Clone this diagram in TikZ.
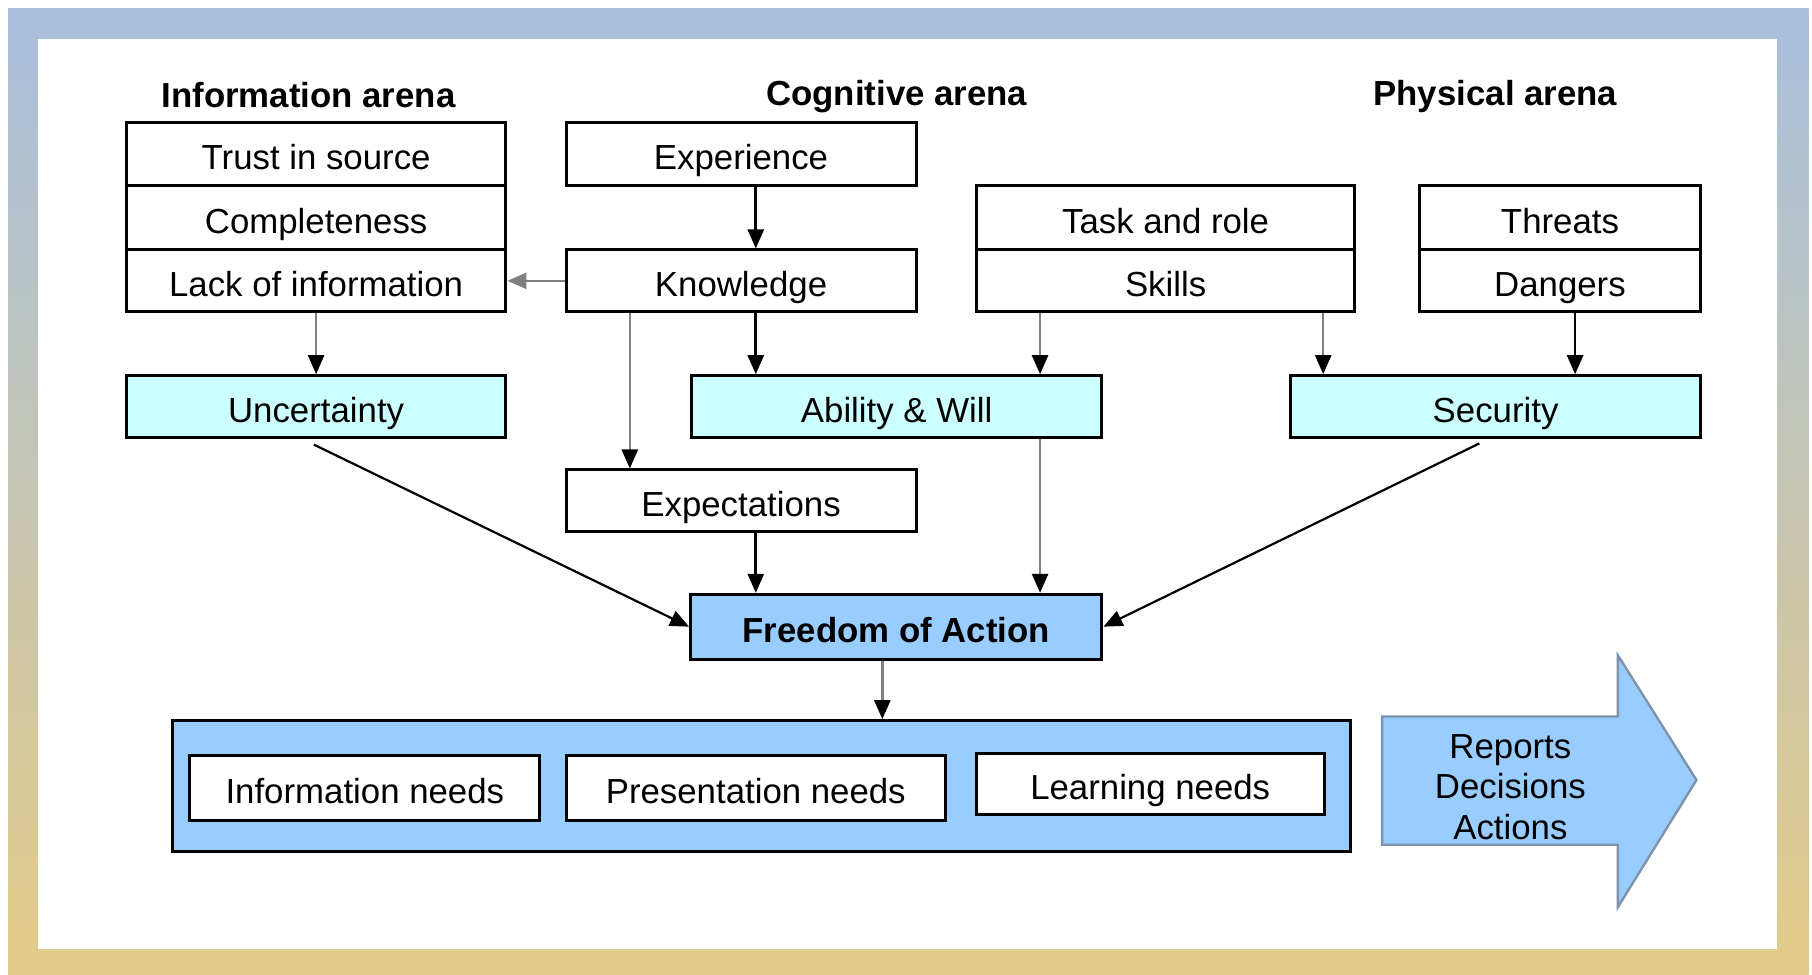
\documentclass[tikz,border=0pt]{standalone}
\usepackage{fontspec}
\setmainfont{Liberation Sans}
\usetikzlibrary{arrows.meta,calc}
\definecolor{cyanbox}{HTML}{CCFFFF}
\definecolor{bluebox}{HTML}{99CCFF}
\definecolor{frametop}{HTML}{A7BFDD}
\definecolor{framemid}{HTML}{CEC5C6}
\definecolor{framebot}{HTML}{E3CB88}
\definecolor{arrowedge}{HTML}{7F93AB}
\definecolor{linegray}{HTML}{808080}
\newcommand\bnode[7][]{\node[bx,#1,minimum width={(#5-#3)*0.5778pt},minimum height={(#6-#4)*0.5778pt}] (#2) at ({(#3+#5)/2},{(#4+#6)/2}) {#7};}
\begin{document}
\begin{tikzpicture}[x=0.5778pt,y=-0.5778pt,
  every node/.style={font=\fontsize{17.4}{20.2}\selectfont},
  bx/.style={draw=black,line width=1.5pt,fill=white,inner sep=0pt,text height=15.8pt,text depth=0pt},
  head/.style={font=\bfseries\fontsize{17.4}{20.2}\selectfont,anchor=base,inner sep=0pt},
  conn/.style={line width=1.3pt,-{Triangle[width=8pt,length=9.5pt,color=black]}},
  gconn/.style={conn,draw=linegray},
  gfull/.style={line width=1.3pt,draw=linegray,-{Triangle[width=8pt,length=9.5pt,color=linegray]}},
  diag/.style={line width=1.1pt,-{Triangle[width=8pt,length=9.5pt,color=black]}}
]
\useasboundingbox (0,0) rectangle (1568,843);
% frame
\shade[top color=frametop,middle color=framemid,bottom color=framebot] (7,7) rectangle (1565,843);
\fill[white] (33,34) rectangle (1538,821);

% headings
\node[head] (hinfo) at (267,93) {Information arena};
\node[head] (hcog) at (776,91.5) {Cognitive arena};
\node[head] (hphys) at (1294,91.5) {Physical arena};

% information arena
\bnode{trust}{109.3}{105.9}{437.8}{160.7}{Trust in source}
\bnode{compl}{109.3}{160.7}{437.8}{216.3}{Completeness}
\bnode{lack}{109.3}{216.3}{437.8}{269.7}{Lack of information}
\bnode[fill=cyanbox]{unc}{109.3}{325.1}{437.8}{378.4}{Uncertainty}

% cognitive arena
\bnode{exper}{489.8}{105.9}{792.7}{160.7}{Experience}
\bnode{know}{489.8}{216.3}{792.7}{269.7}{Knowledge}
\bnode{task}{844.8}{160.7}{1172.5}{216.3}{Task and role}
\bnode{skills}{844.8}{216.3}{1172.5}{269.7}{Skills}
\bnode[fill=cyanbox]{abl}{598.4}{325.1}{953.4}{378.4}{Ability \& Will}
\bnode{expt}{489.8}{406.7}{792.7}{459.8}{Expectations}

% physical arena
\bnode{threats}{1228}{160.7}{1471.8}{216.3}{Threats}
\bnode{dang}{1228}{216.3}{1471.8}{269.7}{Dangers}
\bnode[fill=cyanbox]{sec}{1116.5}{325.1}{1471.8}{378.4}{Security}

% freedom
\bnode[fill=bluebox,font=\bfseries\fontsize{17.4}{20.2}\selectfont]{fa}{597.6}{514.3}{953.5}{570.3}{Freedom of Action}

% needs
\bnode[fill=bluebox]{needs}{149}{623.6}{1169}{737}{}
\bnode{infon}{164.4}{654}{467}{709.6}{Information needs}
\bnode{presn}{490}{654}{818}{709.6}{Presentation needs}
\bnode{learn}{844.7}{651.8}{1146}{705}{Learning needs}

% big arrow
\draw[fill=bluebox,draw=arrowedge,line width=1.2pt,line join=miter]
  (1196,620) -- (1400,620) -- (1400,567) -- (1468,675) -- (1400,785) -- (1400,731) -- (1196,731) -- cycle;
\node[align=center,inner sep=0pt] (rda) at (1307,681) {Reports\\Decisions\\Actions};

% x positions of connectors
\coordinate (x545) at (545,0);
\coordinate (x654) at (654,0);
\coordinate (x900) at (900,0);
\coordinate (x1145) at (1145,0);
\coordinate (x1363) at (1363,0);
\coordinate (x764) at (763.5,0);

% connectors
\draw[gfull] (know.west) -- (lack.east);
\draw[gconn] (lack.south) -- (unc.north);
\draw[conn] (exper.south -| x654) -- (know.north -| x654);
\draw[conn] (know.south -| x654) -- (abl.north -| x654);
\draw[gconn] (know.south -| x545) -- (expt.north -| x545);
\draw[gconn] (skills.south -| x900) -- (abl.north -| x900);
\draw[gconn] (skills.south -| x1145) -- (sec.north -| x1145);
\draw[conn] (dang.south -| x1363) -- (sec.north -| x1363);
\draw[gconn] (abl.south -| x900) -- (fa.north -| x900);
\draw[conn] (expt.south -| x654) -- (fa.north -| x654);
\draw[gconn] (fa.south -| x764) -- (needs.north -| x764);
\draw[diag] ($(unc.south)+(-2,5)$) -- (fa.west);
\draw[diag] ($(sec.south)+(-14,4)$) -- (fa.east);
\end{tikzpicture}
\end{document}
